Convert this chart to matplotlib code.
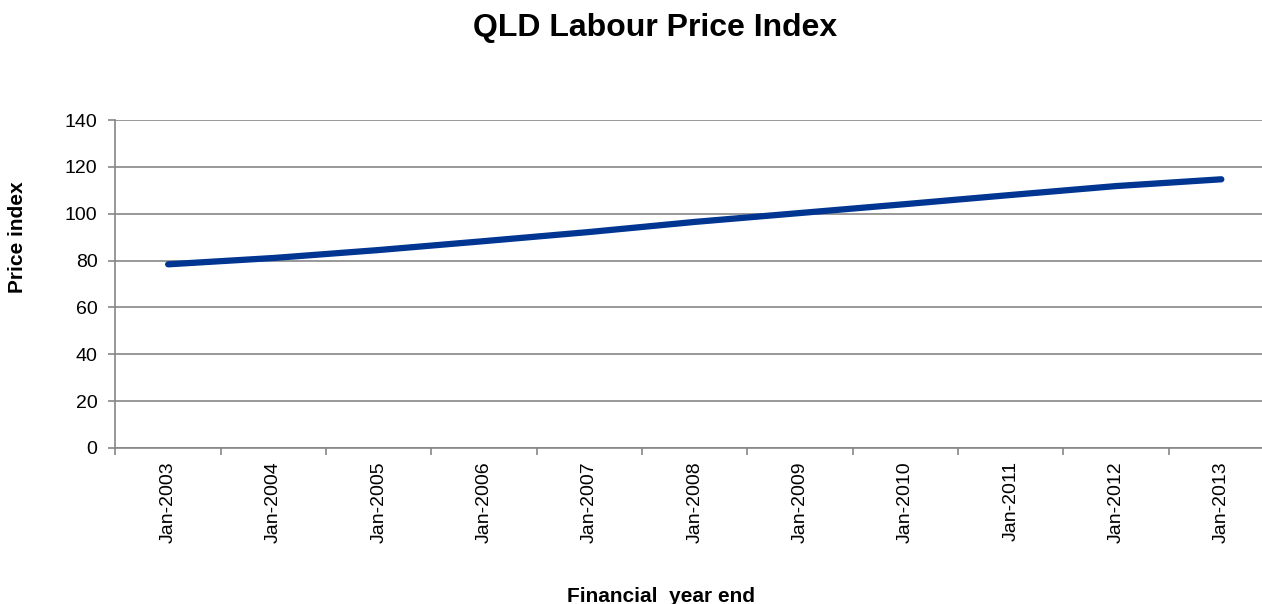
import matplotlib
matplotlib.use("Agg")
import matplotlib.pyplot as plt
from matplotlib.ticker import FixedLocator, MultipleLocator

# Values
years = ["Jan-2003", "Jan-2004", "Jan-2005", "Jan-2006", "Jan-2007", "Jan-2008",
         "Jan-2009", "Jan-2010", "Jan-2011", "Jan-2012", "Jan-2013"]
price_index = [78.4, 81.1, 84.5, 88.3, 92.2, 96.5, 100.3, 104.1, 108.0, 111.8, 114.7]

plt.rcParams["font.family"] = ["Liberation Sans", "DejaVu Sans"]
axis_grey = "#868686"

fig = plt.figure(figsize=(12.62, 6.04), dpi=100)
ax = fig.add_axes([0.0915, 0.2583, 0.918, 0.543])

xs = list(range(len(years)))
ax.plot(xs, price_index, color="#003591", linewidth=4.5, solid_capstyle="round")

ax.set_xlim(-0.5, len(years) - 0.5)
ax.set_ylim(0, 140)
ax.yaxis.set_major_locator(MultipleLocator(20))
ax.set_xticks(xs)
ax.set_xticklabels(years, rotation=90, fontsize=14)
ax.xaxis.set_minor_locator(FixedLocator([i - 0.5 for i in range(len(years) + 1)]))
ax.tick_params(axis="x", which="major", length=0, pad=9.5)
ax.tick_params(axis="x", which="minor", length=5, color=axis_grey, width=1.2)
ax.tick_params(axis="y", length=5, color=axis_grey, width=1.2, labelsize=14, pad=8)

ax.grid(axis="y", color=axis_grey, linewidth=1.2)
ax.set_axisbelow(True)
for side in ["top", "right"]:
    ax.spines[side].set_visible(False)
for side in ["left", "bottom"]:
    ax.spines[side].set_color(axis_grey)
    ax.spines[side].set_linewidth(1.2)

fig.text(0.519, 0.953, "QLD Labour Price Index", ha="center", va="center",
         fontsize=23, fontweight="bold")
# x label sits at the very bottom edge, the "y" descender is clipped as in the reference
fig.text(0.524, 0.003, "Financial  year end", ha="center", va="baseline",
         fontsize=15, fontweight="bold")
fig.text(0.014, 0.608, "Price index", ha="center", va="center", rotation=90,
         fontsize=15, fontweight="bold")

fig.savefig("out.png", dpi=100)
